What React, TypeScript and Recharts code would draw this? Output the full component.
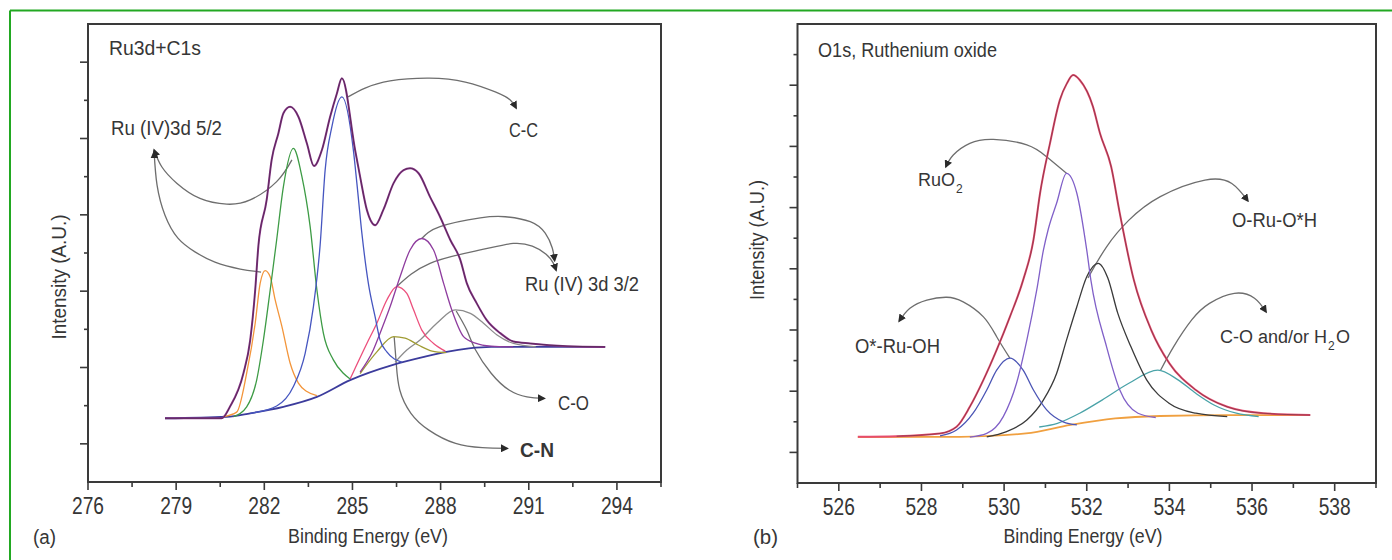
import React from 'react';
import { ComposedChart, Line, XAxis, YAxis, ReferenceArea } from 'recharts';

type Pt = [number, number];

// ---- (a) Ru3d + C1s : [binding energy eV, intensity a.u.]
const ruEnvelope: Pt[] = [
  [278.62, 1.67], [280.55, 1.67], [280.83, 1.97], [281.29, 2.85], [281.52, 3.72], [281.69, 5.03],
  [281.8, 6.2], [282.08, 7.39], [282.25, 8.44], [282.48, 9.14], [282.65, 9.66], [282.88, 9.83],
  [283.16, 9.57], [283.45, 8.87], [283.69, 8.28], [283.96, 8.7], [284.24, 9.57], [284.47, 10.18],
  [284.64, 10.58], [285.09, 8.7], [285.26, 8.0], [285.49, 7.13], [285.77, 6.73], [286.05, 7.13],
  [286.4, 7.83], [286.74, 8.17], [286.96, 8.22], [287.25, 8.09], [287.64, 7.47], [287.98, 6.95],
  [288.33, 6.34], [288.67, 5.82], [288.89, 5.21], [289.23, 4.68], [289.57, 4.24], [290.03, 3.9],
  [290.48, 3.68], [291.05, 3.63], [292.3, 3.56], [293.6, 3.54],
];
const ruBackground: Pt[] = [
  [278.62, 1.67], [280.72, 1.71], [281.52, 1.8], [282.65, 1.97], [283.79, 2.23], [284.92, 2.67],
  [286.38, 3.07], [287.44, 3.28], [288.2, 3.41], [288.96, 3.5], [289.72, 3.54], [293.6, 3.54],
];
const ruOrange: Pt[] = [
  [280.6, 1.71], [281.06, 1.83], [281.4, 2.85], [281.69, 4.16], [281.86, 5.21], [282.03, 5.54],
  [282.2, 5.38], [282.37, 4.77], [282.6, 4.07], [282.88, 3.11], [283.16, 2.59], [283.45, 2.37], [283.79, 2.26],
];
const ruGreen: Pt[] = [
  [280.95, 1.71], [281.4, 1.97], [281.74, 2.67], [281.97, 3.72], [282.2, 5.03], [282.42, 6.34],
  [282.65, 7.74], [282.99, 8.74], [283.28, 8.0], [283.56, 6.69], [283.79, 5.03], [284.01, 3.9],
  [284.35, 3.2], [284.69, 2.85], [284.92, 2.7],
];
const ruBlue: Pt[] = [
  [281.52, 1.8], [282.42, 1.99], [282.99, 2.5], [283.39, 3.37], [283.67, 4.59], [283.9, 6.21],
  [284.07, 8.17], [284.3, 9.31], [284.64, 10.09], [285.03, 8.7], [285.15, 7.83], [285.32, 6.52],
  [285.54, 5.21], [285.77, 4.33], [285.94, 3.72], [286.17, 3.41], [286.68, 3.14],
];
const ruPink: Pt[] = [
  [284.92, 2.7], [285.49, 3.63], [285.83, 4.16], [286.17, 4.77], [286.51, 5.12], [286.85, 4.94],
  [287.08, 4.51], [287.36, 3.98], [287.76, 3.63], [288.16, 3.43],
];
const ruOlive: Pt[] = [
  [285.26, 2.84], [285.83, 3.41], [286.4, 3.81], [286.79, 3.77], [287.24, 3.59], [287.71, 3.43], [288.19, 3.39],
];
const ruPurple: Pt[] = [
  [285.26, 2.88], [285.71, 3.46], [285.94, 3.9], [286.28, 4.59], [286.62, 5.38], [286.96, 6.08],
  [287.36, 6.38], [287.76, 6.08], [288.1, 5.21], [288.38, 4.51], [288.78, 3.81], [289.18, 3.64],
  [289.72, 3.56], [290.47, 3.54],
];
const ruGray: Pt[] = [
  [286.45, 3.14], [286.85, 3.46], [287.3, 3.72], [287.87, 4.16], [288.5, 4.51], [289.01, 4.42],
  [289.46, 4.16], [289.92, 3.85], [290.48, 3.63], [291.24, 3.54],
];

// annotation arrows of (a), peak -> label
const arrowRu52a: Pt[] = [
  [282.94, 8.44], [282.42, 7.87], [281.52, 7.39], [280.72, 7.28], [279.81, 7.43], [279.02, 7.83], [278.51, 8.26], [278.25, 8.7],
];
const arrowRu52b: Pt[] = [
  [281.89, 5.5], [281.18, 5.58], [280.32, 5.76], [279.64, 6.03], [279.06, 6.39], [278.62, 6.99], [278.35, 7.78], [278.25, 8.65],
];
const arrowCC: Pt[] = [
  [284.85, 10.09], [285.43, 10.32], [286.28, 10.51], [287.61, 10.58], [288.84, 10.48], [289.86, 10.22], [290.37, 10.01], [290.57, 9.8],
];
const arrowRu32a: Pt[] = [
  [287.36, 6.38], [287.98, 6.69], [289.35, 6.92], [290.2, 6.95], [291.05, 6.82], [291.56, 6.52], [291.8, 6.13], [291.88, 5.8],
];
const arrowRu32b: Pt[] = [
  [286.51, 5.12], [287.64, 5.73], [289.35, 6.08], [290.47, 6.25], [291.12, 6.18], [291.59, 5.97], [291.83, 5.74], [291.93, 5.55],
];
const arrowCO: Pt[] = [
  [288.53, 4.48], [288.89, 3.98], [289.19, 3.46], [289.72, 2.85], [290.33, 2.41], [290.94, 2.23], [291.53, 2.19],
];
const arrowCN: Pt[] = [
  [286.42, 3.8], [286.49, 3.11], [286.61, 2.41], [286.99, 1.8], [287.6, 1.36], [288.51, 1.01], [289.42, 0.9], [290.27, 0.88],
];

// ---- (b) O1s, Ruthenium oxide
const oEnvelope: Pt[] = [
  [526.46, 1.51], [527.4, 1.53], [528.45, 1.62], [528.85, 1.84], [529.17, 2.49], [529.5, 3.37],
  [529.82, 4.35], [530.14, 5.43], [530.46, 6.63], [530.71, 7.94], [530.87, 9.47], [531.11, 11.1],
  [531.35, 12.52], [531.52, 13.06], [531.67, 13.33], [531.83, 13.17], [532.15, 12.3], [532.32, 11.43],
  [532.59, 10.34], [532.8, 8.81], [533.14, 6.63], [533.56, 5.0], [534.0, 3.91], [534.64, 3.04],
  [535.4, 2.49], [536.27, 2.28], [537.41, 2.22],
];
const oBackground: Pt[] = [
  [526.46, 1.5], [528.93, 1.51], [530.53, 1.62], [531.61, 1.9], [532.69, 2.11], [533.77, 2.19], [535.47, 2.22], [537.4, 2.22],
];
const oRuO2: Pt[] = [
  [529.17, 1.5], [529.58, 1.62], [529.98, 2.17], [530.3, 3.26], [530.55, 4.67], [530.79, 6.31],
  [530.95, 7.6], [531.07, 8.3], [531.27, 9.14], [531.51, 10.12], [531.76, 9.47], [532.0, 7.61],
  [532.1, 6.63], [532.48, 4.45], [532.8, 3.04], [533.24, 2.28], [533.67, 2.14],
];
const oRuOH: Pt[] = [
  [528.45, 1.54], [528.85, 1.73], [529.25, 2.28], [529.58, 3.04], [529.82, 3.69], [530.14, 4.08],
  [530.46, 3.69], [530.71, 3.04], [531.03, 2.39], [531.43, 2.0], [531.76, 1.9],
];
const oRuOstarH: Pt[] = [
  [529.58, 1.51], [530.06, 1.68], [530.55, 2.06], [530.95, 2.71], [531.27, 3.58], [531.51, 4.67],
  [531.76, 5.76], [532.0, 6.74], [532.28, 7.18], [532.51, 6.7], [532.75, 5.55], [533.07, 4.45],
  [533.45, 3.37], [534.0, 2.6], [534.64, 2.28], [535.4, 2.17],
];
const oCOH2O: Pt[] = [
  [530.85, 1.83], [531.29, 1.95], [531.83, 2.28], [532.37, 2.71], [533.02, 3.26], [533.72, 3.69],
  [534.21, 3.37], [534.64, 2.93], [535.08, 2.55], [535.62, 2.28], [536.16, 2.17],
];

const arrowRuO2: Pt[] = [
  [531.51, 10.12], [531.03, 10.66], [530.55, 11.05], [529.74, 11.23], [529.17, 11.1], [528.77, 10.72], [528.59, 10.33],
];
const arrowRuOH: Pt[] = [
  [530.14, 4.08], [529.82, 4.78], [529.5, 5.43], [529.01, 5.92], [528.61, 6.07], [528.13, 5.98], [527.72, 5.71], [527.46, 5.29],
];
const arrowRuOstarH: Pt[] = [
  [532.03, 6.7], [532.48, 7.72], [533.02, 8.59], [533.78, 9.36], [534.86, 9.9], [535.51, 9.79], [535.9, 9.22],
];
const arrowCOH2O: Pt[] = [
  [533.78, 3.67], [534.1, 4.45], [534.54, 5.33], [534.97, 5.87], [535.57, 6.2], [536.06, 6.04], [536.34, 5.59],
];

// ticks
const ruTicksX = [276, 277.5, 279, 280.5, 282, 283.5, 285, 286.5, 288, 289.5, 291, 292.5, 294, 295.5];
const ruMajorX = [276, 279, 282, 285, 288, 291, 294];
const ruTicksY = [1, 2, 3, 4, 5, 6, 7, 8, 9, 10, 11];
const oTicksX = [525, 526, 527, 528, 529, 530, 531, 532, 533, 534, 535, 536, 537, 538, 539];
const oMajorX = [526, 528, 530, 532, 534, 536, 538];
const oTicksY = [1, 2, 3, 4, 5, 6, 7, 8, 9, 10, 11, 12, 13, 14];

const FONT = "'Liberation Sans', Arial, Helvetica, sans-serif";
const AXIS = '#3a3a3a';
const TXT = '#363636';
const ARROW = '#6e6e6e';

const rows = (pts: Pt[]) => pts.map(([e, v]) => ({ e, v }));

const makeXTick = (majors: number[]) => (props: any) => {
  const { x, y, payload } = props;
  const major = majors.includes(payload.value);
  return (
    <g>
      <line x1={x} x2={x} y1={y} y2={y + (major ? 8 : 5)} stroke={AXIS} strokeWidth={1.6} />
      {major && (
        <text x={x} y={y + 32} textAnchor="middle" fontSize={23} fontFamily={FONT} fill={TXT}
          textLength={32} lengthAdjust="spacingAndGlyphs">
          {payload.value}
        </text>
      )}
    </g>
  );
};

const yTick = (props: any) => {
  const { x, y, payload } = props;
  const len = payload.value % 2 === 1 ? 8 : 4;
  return <line x1={x} x2={x - len} y1={y} y2={y} stroke={AXIS} strokeWidth={1.6} />;
};

const spec = (key: string, pts: Pt[], color: string, width = 1.3, opacity = 1) => (
  <Line key={key} data={rows(pts)} dataKey="v" type="monotone" stroke={color} strokeWidth={width}
    strokeOpacity={opacity} dot={false} activeDot={false} isAnimationActive={false} />
);

const arrow = (key: string, pts: Pt[], marker: string) => (
  <Line key={key} data={rows(pts)} dataKey="v" type="natural" stroke={ARROW} strokeWidth={1.3}
    dot={false} activeDot={false} isAnimationActive={false} markerEnd={`url(#${marker})`} />
);

const ArrowDefs = ({ id }: { id: string }) => (
  <defs>
    <marker id={id} viewBox="0 0 10 10" refX="8" refY="5" markerWidth="8" markerHeight="8"
      markerUnits="userSpaceOnUse" orient="auto">
      <path d="M0,0 L10,5 L0,10 z" fill="#2a2a2a" />
    </marker>
  </defs>
);

const RuPanel = () => (
  <ComposedChart width={700} height={560} margin={{ top: 24, right: 39, left: 68, bottom: 58 }}>
    <ArrowDefs id="headA" />
    <XAxis type="number" dataKey="e" domain={[276, 295.5]} ticks={ruTicksX} allowDataOverflow
      axisLine={false} tickLine={false} tickSize={0} tickMargin={0} height={20} tick={makeXTick(ruMajorX)} interval={0} />
    <YAxis type="number" domain={[0, 12]} ticks={ruTicksY} allowDataOverflow width={20}
      axisLine={false} tickLine={false} tickSize={0} tickMargin={0} tick={yTick} interval={0} />
    <ReferenceArea x1={276} x2={295.5} y1={0} y2={12} fill="none" stroke={AXIS} strokeWidth={2} ifOverflow="visible" />
    {arrow('a1', arrowRu52a, 'headA')}
    {arrow('a2', arrowRu52b, 'headA')}
    {arrow('a3', arrowCC, 'headA')}
    {arrow('a4', arrowRu32a, 'headA')}
    {arrow('a5', arrowRu32b, 'headA')}
    {arrow('a6', arrowCO, 'headA')}
    {arrow('a7', arrowCN, 'headA')}
    {spec('bg', ruBackground, '#3c3c9c', 1.8)}
    {spec('gray', ruGray, '#8c8c8c')}
    {spec('olive', ruOlive, '#a09c34')}
    {spec('pink', ruPink, '#ec4f7c')}
    {spec('purple', ruPurple, '#8e3c9e')}
    {spec('orange', ruOrange, '#f3953a')}
    {spec('green', ruGreen, '#3d9b45')}
    {spec('blue', ruBlue, '#4656c0')}
    {spec('env', ruEnvelope, '#8a348a', 2)}
    {spec('envData', ruEnvelope, '#1e1e1e', 0.8, 0.55)}
  </ComposedChart>
);

const OPanel = () => (
  <ComposedChart width={692} height={560} margin={{ top: 24, right: 16, left: 77.5, bottom: 57 }}>
    <ArrowDefs id="headB" />
    <XAxis type="number" dataKey="e" domain={[525, 539]} ticks={oTicksX} allowDataOverflow
      axisLine={false} tickLine={false} tickSize={0} tickMargin={0} height={20} tick={makeXTick(oMajorX)} interval={0} />
    <YAxis type="number" domain={[0, 15]} ticks={oTicksY} allowDataOverflow width={20}
      axisLine={false} tickLine={false} tickSize={0} tickMargin={0} tick={yTick} interval={0} />
    <ReferenceArea x1={525} x2={539} y1={0} y2={15} fill="none" stroke={AXIS} strokeWidth={2} ifOverflow="visible" />
    {arrow('b1', arrowRuO2, 'headB')}
    {arrow('b2', arrowRuOH, 'headB')}
    {arrow('b3', arrowRuOstarH, 'headB')}
    {arrow('b4', arrowCOH2O, 'headB')}
    {spec('bg', oBackground, '#f0a040', 1.8)}
    {spec('teal', oCOH2O, '#4aa3a8')}
    {spec('black', oRuOstarH, '#3a3a3a')}
    {spec('blue', oRuOH, '#4b55b5')}
    {spec('ruo2', oRuO2, '#8060c8')}
    {spec('env', oEnvelope, '#e64c6e', 2)}
    {spec('envData', oEnvelope.slice(1), '#1e1e1e', 0.8, 0.5)}
  </ComposedChart>
);

const t = { fontFamily: FONT, fontSize: 20, fill: TXT, lengthAdjust: 'spacingAndGlyphs' } as const;
const plain = { fontFamily: FONT, fontSize: 18, fill: TXT } as const;
const sub = { fontFamily: FONT, fontSize: 12, fill: TXT } as const;

export default function App() {
  return (
    <div style={{ position: 'absolute', left: 0, top: 0, width: 1392, height: 560, background: '#fff', fontFamily: FONT }}>
      <div style={{ position: 'absolute', left: 0, top: 0 }}>
        <RuPanel />
      </div>
      <div style={{ position: 'absolute', left: 700, top: 0 }}>
        <OPanel />
      </div>
      <svg width={1392} height={560} style={{ position: 'absolute', left: 0, top: 0, pointerEvents: 'none' }}>
        <line x1={10} y1={10.5} x2={1392} y2={10.5} stroke="#22a822" strokeWidth={2} />
        <line x1={10} y1={10.5} x2={10} y2={560} stroke="#22a822" strokeWidth={2} />

        <text x={109} y={55} {...t} textLength={92}>Ru3d+C1s</text>
        <text x={111} y={135} {...t} textLength={111}>Ru (IV)3d 5/2</text>
        <text x={509} y={137} {...t} textLength={29}>C-C</text>
        <text x={525} y={291} {...t} textLength={114}>Ru (IV) 3d 3/2</text>
        <text x={558} y={410} {...t} textLength={31}>C-O</text>
        <text x={520} y={457} {...t} textLength={34} fontWeight="bold">C-N</text>
        <text x={66} y={277} {...t} textLength={125} textAnchor="middle" transform="rotate(-90 66 277)">Intensity (A.U.)</text>
        <text x={368} y={543} {...t} textLength={160} textAnchor="middle">Binding Energy (eV)</text>
        <text x={33} y={544} {...t} textLength={23}>(a)</text>

        <text x={818} y={57} {...t} textLength={179}>O1s, Ruthenium oxide</text>
        <text x={918} y={186} {...plain}>RuO</text>
        <text x={956} y={193} {...sub}>2</text>
        <text x={1232} y={227} {...t} textLength={85}>O-Ru-O*H</text>
        <text x={855} y={353} {...t} textLength={85}>O*-Ru-OH</text>
        <text x={1220} y={343} {...plain}>C-O and/or H</text>
        <text x={1328} y={350} {...sub}>2</text>
        <text x={1336} y={343} {...plain}>O</text>
        <text x={764} y={240} {...t} textLength={120} textAnchor="middle" transform="rotate(-90 764 240)">Intensity (A.U.)</text>
        <text x={1083} y={543} {...t} textLength={159} textAnchor="middle">Binding Energy (eV)</text>
        <text x={753} y={544} {...t} textLength={25}>(b)</text>
      </svg>
    </div>
  );
}
